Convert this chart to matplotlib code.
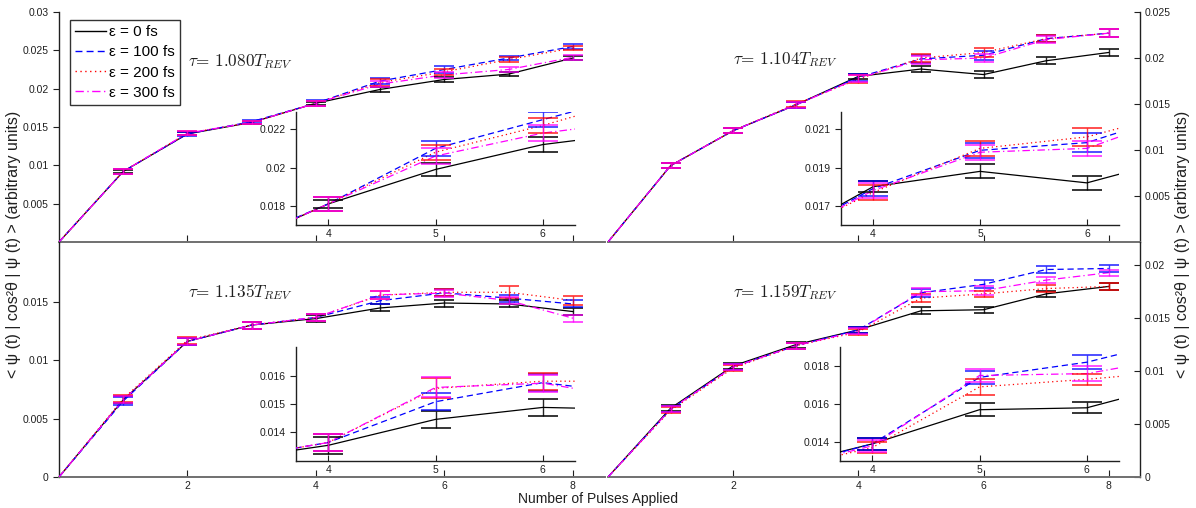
import matplotlib
matplotlib.use('Agg')
import matplotlib.pyplot as plt
from matplotlib.lines import Line2D

plt.rcParams['font.family'] = ['Liberation Sans', 'DejaVu Sans']

W, H = 1196, 508

pulses = [0, 1, 2, 3, 4, 5, 6, 7, 8]
series_labels = ['ε = 0 fs', 'ε = 100 fs', 'ε = 200 fs', 'ε = 300 fs']
tau_values = ['1.080', '1.104', '1.135', '1.159']

# Panel A: tau = 1.080 T_REV
a_black = [0, 0.0092, 0.0141, 0.0156, 0.0181, 0.0199, 0.0212, 0.0219, 0.0240]
a_blue = [0, 0.0092, 0.0141, 0.0157, 0.0181, 0.0210, 0.0225, 0.0240, 0.0255]
a_red = [0, 0.0092, 0.0142, 0.0156, 0.0181, 0.0208, 0.0222, 0.0238, 0.0253]
a_mag = [0, 0.0092, 0.0142, 0.0156, 0.0181, 0.0206, 0.0218, 0.0225, 0.0241]
a_black_err = [0, 0.0002, 0.0002, 0.0002, 0.0002, 0.00035, 0.00037, 0.0003, 0.0003]
a_blue_err = [0, 0.0003, 0.0003, 0.0002, 0.00037, 0.0004, 0.0004, 0.0003, 0.0003]
a_red_err = [0, 0.0003, 0.0003, 0.0002, 0.00035, 0.0004, 0.0004, 0.0003, 0.0003]
a_mag_err = [0, 0.0003, 0.0003, 0.0002, 0.00035, 0.0004, 0.0004, 0.0003, 0.0003]

# Panel B: tau = 1.104 T_REV
b_black = [0, 0.0083, 0.0121, 0.0149, 0.0180, 0.0188, 0.0182, 0.0197, 0.0206]
b_blue = [0, 0.0083, 0.0121, 0.0149, 0.0179, 0.0199, 0.0203, 0.0221, 0.0227]
b_red = [0, 0.0083, 0.0121, 0.0150, 0.0177, 0.0200, 0.0206, 0.0221, 0.0227]
b_mag = [0, 0.0083, 0.0121, 0.0149, 0.0178, 0.0198, 0.0200, 0.0220, 0.0227]
b_black_err = [0, 0.0003, 0.0003, 0.0003, 0.0003, 0.00037, 0.00035, 0.0004, 0.0004]
b_blue_err = [0, 0.0003, 0.0003, 0.0003, 0.0004, 0.0004, 0.0005, 0.0004, 0.0004]
b_red_err = [0, 0.0003, 0.0003, 0.0003, 0.0004, 0.0004, 0.00045, 0.0004, 0.0004]
b_mag_err = [0, 0.0003, 0.0003, 0.0003, 0.0004, 0.0004, 0.0004, 0.0004, 0.0004]

# Panel C: tau = 1.135 T_REV
c_black = [0, 0.0066, 0.0116, 0.0130, 0.01355, 0.01446, 0.01488, 0.0148, 0.01415]
c_blue = [0, 0.0065, 0.0116, 0.0130, 0.01365, 0.01508, 0.01575, 0.0153, 0.0148]
c_red = [0, 0.0067, 0.0117, 0.0130, 0.01365, 0.01555, 0.0158, 0.0158, 0.0151]
c_mag = [0, 0.0066, 0.0116, 0.0130, 0.01365, 0.01558, 0.01573, 0.0151, 0.01358]
c_black_err = [0, 0.0003, 0.0003, 0.0003, 0.0003, 0.0003, 0.0003, 0.0003, 0.0003]
c_blue_err = [0, 0.0003, 0.0003, 0.0003, 0.0003, 0.0003, 0.0003, 0.0003, 0.0003]
c_red_err = [0, 0.0003, 0.0003, 0.0003, 0.0003, 0.00035, 0.0003, 0.0005, 0.00035]
c_mag_err = [0, 0.0003, 0.0003, 0.0003, 0.0003, 0.00035, 0.0003, 0.0003, 0.0003]

# Panel D: tau = 1.159 T_REV
d_black = [0, 0.0065, 0.0105, 0.0125, 0.0139, 0.0157, 0.0158, 0.0173, 0.0180]
d_blue = [0, 0.0064, 0.0104, 0.0124, 0.0139, 0.0174, 0.0182, 0.0196, 0.0197]
d_red = [0, 0.0063, 0.0103, 0.0124, 0.0137, 0.0169, 0.0173, 0.0178, 0.0180]
d_mag = [0, 0.0064, 0.0104, 0.0124, 0.0138, 0.0175, 0.0176, 0.0186, 0.0193]
d_black_err = [0, 0.0003, 0.0003, 0.0003, 0.0003, 0.00034, 0.0003, 0.0003, 0.0003]
d_blue_err = [0, 0.0003, 0.0003, 0.0003, 0.0003, 0.00035, 0.00037, 0.0003, 0.0003]
d_red_err = [0, 0.0003, 0.0003, 0.0003, 0.0003, 0.0004, 0.0003, 0.0003, 0.0003]
d_mag_err = [0, 0.0003, 0.0003, 0.0003, 0.0003, 0.00035, 0.0004, 0.0003, 0.0003]

colors = ['black', '#0000ff', '#ff0000', '#ff00ff']
styles = ['-', (0, (5, 3)), (0, (1, 2.5)), (0, (6, 2.5, 1, 2.5))]
ealphas = [0.85, 0.75, 0.75, 0.75]

fig = plt.figure(figsize=(W / 100, H / 100), dpi=100)


def px_axes(left, top, right, bottom):
    return fig.add_axes([left / W, (H - bottom) / H, (right - left) / W, (bottom - top) / H])


def draw(ax, vals, errs, capsize, lw):
    for v, e, c, ls, a in zip(vals, errs, colors, styles, ealphas):
        ax.plot(pulses, v, color=c, ls=ls, lw=lw, zorder=3)
        ax.errorbar(pulses[1:], v[1:], yerr=e[1:], fmt='none', ecolor=c,
                    elinewidth=1.0, capsize=capsize, capthick=1.3, alpha=a, zorder=4)


def style_main(ax, side, ylim, yticks, show_xlabels):
    ax.set_xlim(0, 8.5)
    ax.set_ylim(*ylim)
    ax.set_xticks([2, 4, 6, 8])
    ax.set_yticks(yticks)
    ax.set_yticklabels([('%g' % t) for t in yticks])
    for s in ['top', 'left', 'right']:
        ax.spines[s].set_visible(False)
    ax.spines['bottom'].set_color('#707070')
    ax.spines['bottom'].set_linewidth(1.4)
    ax.spines[side].set_visible(True)
    ax.spines[side].set_color('#202020')
    ax.spines[side].set_linewidth(1.0)
    if side == 'right':
        ax.yaxis.tick_right()
        ax.tick_params(axis='y', direction='in', length=4)
    else:
        ax.tick_params(axis='y', direction='out', length=4)
    ax.tick_params(axis='x', direction='in', length=5, pad=3)
    ax.tick_params(labelsize=7.5, colors='#202020')
    if not show_xlabels:
        ax.set_xticklabels([])
    ax.patch.set_alpha(0)


def style_inset(ax, ylim, yticks):
    ax.set_xlim(3.7, 6.3)
    ax.set_ylim(*ylim)
    ax.set_xticks([4, 5, 6])
    ax.set_yticks(yticks)
    ax.set_yticklabels([('%g' % t) for t in yticks])
    ax.spines['top'].set_visible(False)
    ax.spines['right'].set_visible(False)
    for s in ['left', 'bottom']:
        ax.spines[s].set_color('#202020')
        ax.spines[s].set_linewidth(1.0)
    ax.tick_params(axis='x', direction='in', length=4, pad=3)
    ax.tick_params(axis='y', direction='out', length=4)
    ax.tick_params(labelsize=7.5, colors='#202020')
    ax.patch.set_alpha(0)


panels = [
    dict(box=(59, 12, 605, 242), side='left', ylim=(0, 0.03),
         yt=[0.005, 0.01, 0.015, 0.02, 0.025, 0.03], xl=False,
         vals=[a_black, a_blue, a_red, a_mag], errs=[a_black_err, a_blue_err, a_red_err, a_mag_err],
         ibox=(296, 112, 575, 225), iylim=(0.017, 0.0229), iyt=[0.018, 0.02, 0.022], tau=(188, 62)),
    dict(box=(608, 12, 1140, 242), side='right', ylim=(0, 0.025),
         yt=[0.005, 0.01, 0.015, 0.02, 0.025], xl=False,
         vals=[b_black, b_blue, b_red, b_mag], errs=[b_black_err, b_blue_err, b_red_err, b_mag_err],
         ibox=(841, 112, 1119, 225), iylim=(0.016, 0.0219), iyt=[0.017, 0.019, 0.021], tau=(733, 60)),
    dict(box=(59, 242, 605, 477), side='left', ylim=(0, 0.0201),
         yt=[0, 0.005, 0.01, 0.015], xl=True,
         vals=[c_black, c_blue, c_red, c_mag], errs=[c_black_err, c_blue_err, c_red_err, c_mag_err],
         ibox=(296, 347, 575, 461), iylim=(0.013, 0.017), iyt=[0.014, 0.015, 0.016], tau=(188, 292)),
    dict(box=(608, 242, 1140, 477), side='right', ylim=(0, 0.0222),
         yt=[0, 0.005, 0.01, 0.015, 0.02], xl=True,
         vals=[d_black, d_blue, d_red, d_mag], errs=[d_black_err, d_blue_err, d_red_err, d_mag_err],
         ibox=(840, 347, 1119, 461), iylim=(0.013, 0.019), iyt=[0.014, 0.016, 0.018], tau=(733, 292)),
]

for p, tau in zip(panels, tau_values):
    ax = px_axes(*p['box'])
    draw(ax, p['vals'], p['errs'], capsize=7, lw=0.9)
    style_main(ax, p['side'], p['ylim'], p['yt'], p['xl'])
    ia = px_axes(*p['ibox'])
    draw(ia, p['vals'], p['errs'], capsize=11, lw=0.9)
    style_inset(ia, p['iylim'], p['iyt'])
    tx, ty = p['tau']
    fig.text(tx / W, 1 - ty / H, r'$\tau\!=\,' + tau + r'T_{REV}$',
             math_fontfamily='cm', fontsize=12.3, ha='left', va='center', color='#202020')

handles = [Line2D([], [], color=c, ls=ls, lw=1.0) for c, ls in zip(colors, styles)]
leg = fig.legend(handles, series_labels, loc='upper left', bbox_to_anchor=(70 / W, 1 - 20 / H),
                 bbox_transform=fig.transFigure, borderaxespad=0, fontsize=11, frameon=True,
                 fancybox=False, handlelength=2.0, handletextpad=0.2, labelspacing=0.4,
                 borderpad=0.35)
leg.get_frame().set_edgecolor('black')
leg.get_frame().set_linewidth(1.0)

ylab = '< ψ (t) | cos²θ | ψ (t) > (arbitrary units)'
fig.text(14 / W, 1 - 244 / H, ylab, rotation=90, ha='center', va='center', fontsize=11.5, color='#202020')
fig.text(1183 / W, 1 - 244 / H, ylab, rotation=90, ha='center', va='center', fontsize=11.5, color='#202020')
fig.text(598 / W, 1 - 499 / H, 'Number of Pulses Applied', ha='center', va='center', fontsize=10,
         color='#202020')

fig.savefig('out.png', dpi=100)
